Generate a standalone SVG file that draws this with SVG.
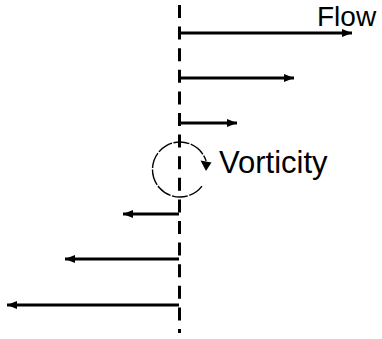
<svg xmlns="http://www.w3.org/2000/svg" width="382" height="339" viewBox="0 0 382 339">
  <defs>
    <marker id="head" markerUnits="userSpaceOnUse" markerWidth="12" markerHeight="10" refX="10" refY="4" orient="auto">
      <path d="M0,0 L10,4 L0,8 Z" fill="#000"/>
    </marker>
    <style>
      .axis { stroke: #000; stroke-width: 3; stroke-dasharray: 13 8.6; fill: none; }
      .flow { stroke: #000; stroke-width: 3; fill: none; marker-end: url(#head); }
      .curl { stroke: #000; stroke-width: 1.4; stroke-dasharray: 16 1.5; fill: none; }
      .label { font-family: "Liberation Sans", Arial, sans-serif; fill: #000; }
    </style>
  </defs>

  <!-- centre line of the shear layer -->
  <g id="axis">
    <line class="axis" x1="179.5" y1="5" x2="179.5" y2="333"/>
  </g>

  <!-- velocity profile arrows -->
  <g id="connectors">
    <line class="flow" x1="179" y1="33" x2="352" y2="33"/>
    <line class="flow" x1="179" y1="78" x2="294" y2="78"/>
    <line class="flow" x1="179" y1="123" x2="237" y2="123"/>
    <line class="flow" x1="179" y1="214" x2="123" y2="214"/>
    <line class="flow" x1="179" y1="259" x2="65" y2="259"/>
    <line class="flow" x1="179" y1="305" x2="7" y2="305"/>
  </g>

  <!-- rotation symbol -->
  <g id="vortex">
    <path class="curl" d="M201.96,186.05 A27.5,27.5 0 1 1 206.15,161"/>
    <path d="M200.5,160.5 L211.5,162.5 L206,171 Z" fill="#000"/>
  </g>

  <g id="label-flow">
    <text class="label" x="317" y="26" font-size="28">Flow</text>
  </g>
  <g id="label-vorticity">
    <text class="label" x="219" y="173" font-size="31">Vorticity</text>
  </g>
</svg>
